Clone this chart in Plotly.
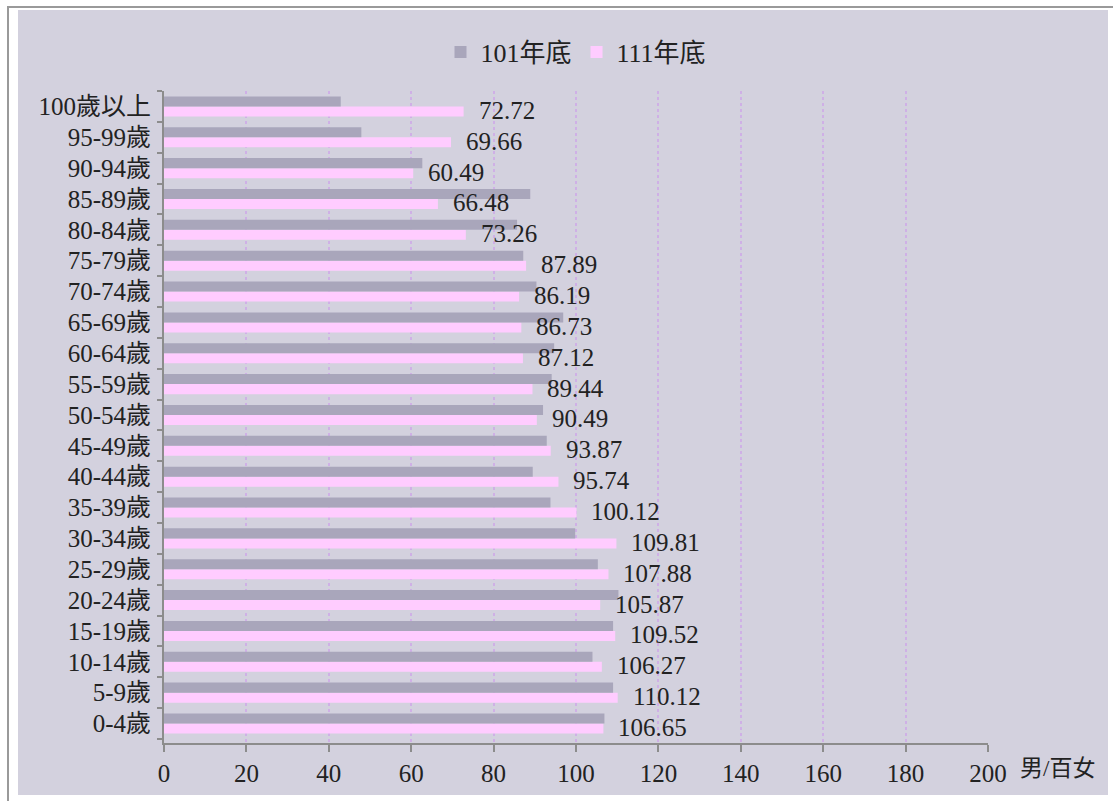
import plotly.graph_objects as go

categories = ["0-4歲", "5-9歲", "10-14歲", "15-19歲", "20-24歲", "25-29歲", "30-34歲",
              "35-39歲", "40-44歲", "45-49歲", "50-54歲", "55-59歲", "60-64歲", "65-69歲",
              "70-74歲", "75-79歲", "80-84歲", "85-89歲", "90-94歲", "95-99歲", "100歲以上"]
y101 = [106.9, 109.0, 104.0, 109.0, 110.3, 105.3, 99.8, 93.8, 89.5, 92.9, 92.0,
        94.1, 94.7, 96.9, 90.4, 87.2, 85.7, 88.9, 62.7, 47.9, 42.9]
y111 = [106.65, 110.12, 106.27, 109.52, 105.87, 107.88, 109.81, 100.12, 95.74, 93.87, 90.49,
        89.44, 87.12, 86.73, 86.19, 87.89, 73.26, 66.48, 60.49, 69.66, 72.72]
series_names = ["101年底", "111年底"]
x_ticks = [0, 20, 40, 60, 80, 100, 120, 140, 160, 180, 200]
unit_label = "男/百女"

FONT = "Liberation Serif, Noto Sans CJK TC, serif"
C101 = "#A9A6BB"
C111 = "#FFCCFF"
BG = "#D3D1DE"

fig = go.Figure()
fig.add_trace(go.Bar(y=categories, x=y111, orientation="h", name=series_names[1],
                     marker=dict(color=C111, line=dict(width=0)), legendrank=2))
fig.add_trace(go.Bar(y=categories, x=y101, orientation="h", name=series_names[0],
                     marker=dict(color=C101, line=dict(width=0)), legendrank=1))

# plot area in pixels
L, R, T, B = 164, 988, 91, 743
W, H = R - L, B - T
def px(x): return (x - L) / W
def py(y): return (B - y) / H

shapes = [
    dict(type="rect", xref="paper", yref="paper", x0=px(8), x1=px(1125), y0=py(815), y1=py(7),
         line=dict(color="#9A9A9A", width=2), fillcolor="white", layer="below"),
    dict(type="rect", xref="paper", yref="paper", x0=px(18), x1=px(1108), y0=py(795), y1=py(10),
         line=dict(width=0), fillcolor=BG, layer="below"),
]

annotations = []
for c, v in zip(categories, y111):
    annotations.append(dict(x=v, y=c, xref="x", yref="y", text=f"{v:.2f}", showarrow=False,
                            xanchor="left", yanchor="middle", xshift=13, yshift=-4,
                            font=dict(family=FONT, size=25, color="#222222")))
annotations.append(dict(x=px(1018), y=py(768), xref="paper", yref="paper", text=unit_label,
                        showarrow=False, xanchor="left", yanchor="middle",
                        font=dict(family=FONT, size=23, color="#222222")))

fig.update_layout(
    width=1113, height=801,
    margin=dict(l=L, r=1113 - R, t=T, b=801 - B, pad=0),
    paper_bgcolor="white", plot_bgcolor="white",
    barmode="group", bargap=0.35, bargroupgap=0,
    font=dict(family=FONT, size=24, color="#222222"),
    showlegend=True,
    legend=dict(orientation="h", x=0.5, xanchor="center", y=py(52), yanchor="middle",
                font=dict(family=FONT, size=26, color="#222222"), bgcolor="rgba(0,0,0,0)",
                itemwidth=30, traceorder="normal"),
    shapes=shapes, annotations=annotations,
    xaxis=dict(range=[0, 200], tickvals=x_ticks, ticks="outside", ticklen=7, tickwidth=2,
               tickcolor="#8C8C8C", showline=True, linecolor="#8C8C8C", linewidth=2,
               showgrid=True, gridcolor="#CFB0E6", griddash="dot", gridwidth=2,
               zeroline=False, tickfont=dict(family=FONT, size=25, color="#222222"),
               fixedrange=True),
    yaxis=dict(type="category", categoryorder="array", categoryarray=categories,
               ticks="outside", ticklen=5, tickwidth=2, tickcolor="#8C8C8C", tickson="boundaries",
               showline=True, linecolor="#8C8C8C", linewidth=2, showgrid=False,
               tickfont=dict(family=FONT, size=25, color="#222222"), ticklabelstandoff=6),
)

fig.write_html("out.html", config={"displayModeBar": False},
               post_script="document.body.style.margin='0';document.body.style.overflow='hidden';")
